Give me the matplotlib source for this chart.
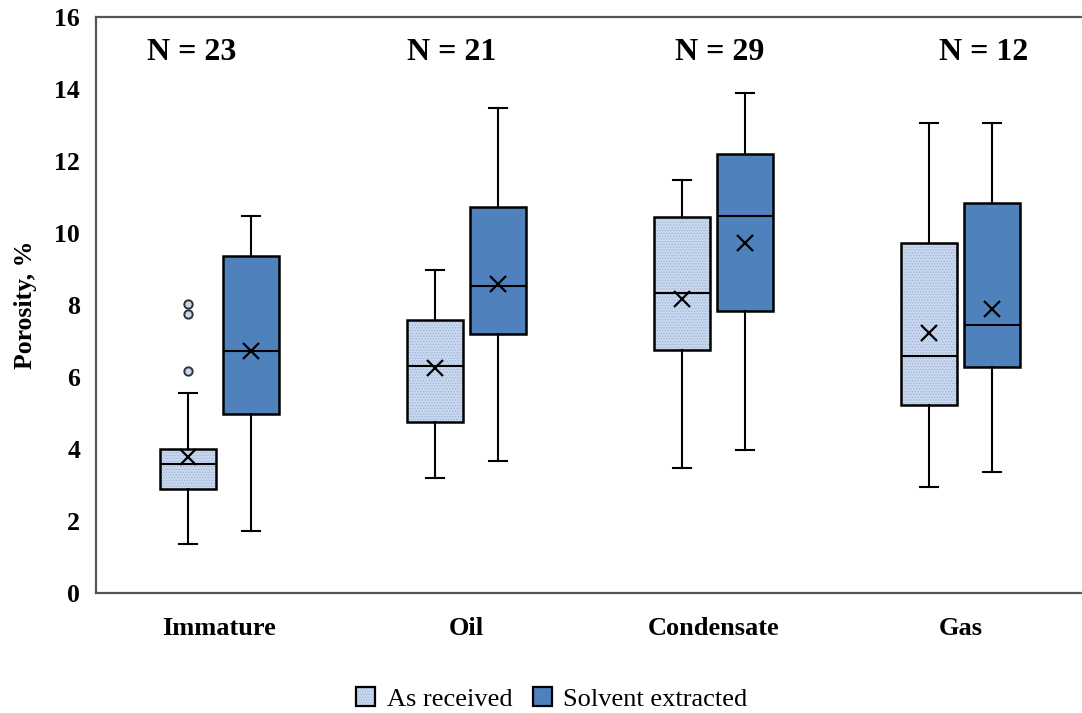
import matplotlib.pyplot as plt
from matplotlib.patches import Patch, PathPatch
from matplotlib.legend_handler import HandlerTuple

categories = ["Immature", "Oil", "Condensate", "Gas"]
counts = [23, 21, 29, 12]

# five-number summaries + mean, porosity in %
received_low = [1.36, 3.20, 3.46, 2.94]
received_q1 = [2.88, 4.75, 6.75, 5.23]
received_med = [3.57, 6.31, 8.33, 6.57]
received_q3 = [3.99, 7.58, 10.44, 9.73]
received_high = [5.56, 8.97, 11.47, 13.05]
received_mean = [3.79, 6.25, 8.16, 7.21]
received_fliers = [[8.03, 7.74, 6.17], [], [], []]

extracted_low = [1.73, 3.67, 3.97, 3.36]
extracted_q1 = [4.97, 7.19, 7.83, 6.29]
extracted_med = [6.72, 8.54, 10.46, 7.45]
extracted_q3 = [9.36, 10.71, 12.19, 10.82]
extracted_high = [10.47, 13.46, 13.90, 13.05]
extracted_mean = [6.72, 8.58, 9.73, 7.89]
extracted_fliers = [[], [], [], []]

LIGHT = "#c9d8ee"
DOTS = "#9db4d6"
DARK = "#4f81bd"


def make_stats(low, q1, med, q3, high, mean, fliers):
    return [dict(whislo=a, q1=b, med=c, q3=d, whishi=e, mean=f, fliers=g)
            for a, b, c, d, e, f, g in zip(low, q1, med, q3, high, mean, fliers)]


plt.rcParams["font.family"] = ["Liberation Serif", "DejaVu Serif"]
plt.rcParams["hatch.linewidth"] = 0.6

fig = plt.figure(figsize=(10.82, 7.13), dpi=100)
ax = fig.add_axes([0.0887, 0.1683, 0.9131, 0.8079])

xs = range(len(categories))
off = 0.1275
width = 0.23
common = dict(widths=width, patch_artist=True, showmeans=True, capwidths=0.07,
              whiskerprops=dict(color="black", lw=1.5),
              capprops=dict(color="black", lw=1.5),
              medianprops=dict(color="black", lw=1.5),
              meanprops=dict(marker="x", markersize=11, markeredgecolor="black",
                             markeredgewidth=1.6))

rec = ax.bxp(make_stats(received_low, received_q1, received_med, received_q3,
                        received_high, received_mean, received_fliers),
             positions=[x - off for x in xs],
             boxprops=dict(facecolor=LIGHT, edgecolor=DOTS, hatch="......", lw=0),
             flierprops=dict(marker="o", markersize=6, markerfacecolor=LIGHT,
                             markeredgecolor="#333333", markeredgewidth=1.4),
             **common)
for box in rec["boxes"]:
    ax.add_patch(PathPatch(box.get_path(), transform=box.get_transform(),
                           fill=False, edgecolor="black", lw=1.8, zorder=box.get_zorder() + 0.1))

ax.bxp(make_stats(extracted_low, extracted_q1, extracted_med, extracted_q3,
                  extracted_high, extracted_mean, extracted_fliers),
       positions=[x + off for x in xs],
       boxprops=dict(facecolor=DARK, edgecolor="black", lw=1.8),
       **common)

# sample counts above each group
n_pos = [-0.111, 0.941, 2.026, 3.095]
for x, n in zip(n_pos, counts):
    ax.text(x, 15.0, f"N = {n}", ha="center", va="center", fontsize=23, fontweight="bold")

ax.set_xlim(-0.5, 3.5)
ax.set_ylim(0, 16)
ax.set_yticks(range(0, 17, 2))
ax.set_xticks(list(xs))
ax.set_xticklabels(categories)
ax.tick_params(axis="y", length=0, labelsize=18.5, pad=11.5)
ax.tick_params(axis="x", length=0, labelsize=19, pad=17)
for lab in ax.get_xticklabels() + ax.get_yticklabels():
    lab.set_fontweight("bold")
ax.set_ylabel("Porosity, %", fontsize=18.5, fontweight="bold", labelpad=12)

for side in ("left", "top", "bottom"):
    ax.spines[side].set_color("#555555")
    ax.spines[side].set_linewidth(1.6)
ax.spines["right"].set_visible(False)

h_rec = (Patch(facecolor=LIGHT, edgecolor=DOTS, hatch="......", lw=0),
         Patch(fill=False, edgecolor="black", lw=1.6))
h_ext = Patch(facecolor=DARK, edgecolor="black", lw=1.6)
fig.legend([h_rec, h_ext], ["As received", "Solvent extracted"],
           handler_map={tuple: HandlerTuple(ndivide=1)},
           loc="center", bbox_to_anchor=(0.51, 0.02), ncol=2, frameon=False,
           fontsize=19, handlelength=0.72, handleheight=0.72, handletextpad=0.45,
           columnspacing=0.76)

fig.savefig("out.png", dpi=100)
